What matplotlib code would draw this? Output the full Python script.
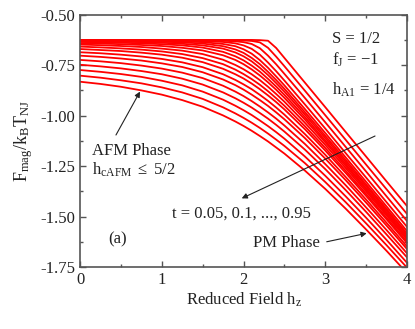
import matplotlib
matplotlib.use("Agg")
import matplotlib.pyplot as plt
from matplotlib.ticker import MultipleLocator, FormatStrFormatter

plt.rcParams['font.family'] = ['Liberation Serif', 'DejaVu Serif']
plt.rcParams['mathtext.fontset'] = 'custom'
plt.rcParams['mathtext.rm'] = 'Liberation Serif'
plt.rcParams['mathtext.it'] = 'Liberation Serif:italic'
plt.rcParams['axes.unicode_minus'] = False

# reduced temperatures t = 0.05 ... 0.95
t_vals = [0.05, 0.10, 0.15, 0.20, 0.25, 0.30, 0.35, 0.40, 0.45, 0.50,
          0.55, 0.60, 0.65, 0.70, 0.75, 0.80, 0.85, 0.90, 0.95]

# reduced field values where the curves were read
h_z = [0, 0.25, 0.5, 0.75, 1.0, 1.25, 1.5, 1.75, 1.9, 2.0, 2.1, 2.2,
       2.3, 2.4, 2.5, 2.75, 3.0, 3.25, 3.5, 3.75, 4.0]

# F_mag / k_B T_NJ, one row per t
F_mag = [
    [-0.625, -0.625, -0.625, -0.625, -0.625, -0.625, -0.625, -0.625, -0.625, -0.625, -0.625,
     -0.626, -0.629, -0.665, -0.714, -0.836, -0.958, -1.081, -1.203, -1.326, -1.448],
    [-0.625, -0.625, -0.625, -0.625, -0.625, -0.625, -0.626, -0.626, -0.627, -0.628, -0.630,
     -0.637, -0.664, -0.708, -0.755, -0.876, -0.998, -1.120, -1.243, -1.365, -1.487],
    [-0.625, -0.625, -0.625, -0.626, -0.626, -0.626, -0.627, -0.629, -0.632, -0.636, -0.645,
     -0.666, -0.703, -0.746, -0.793, -0.912, -1.033, -1.155, -1.277, -1.400, -1.522],
    [-0.625, -0.625, -0.626, -0.626, -0.627, -0.628, -0.631, -0.635, -0.642, -0.652, -0.669,
     -0.698, -0.737, -0.780, -0.826, -0.944, -1.064, -1.186, -1.307, -1.429, -1.551],
    [-0.626, -0.627, -0.627, -0.628, -0.630, -0.632, -0.636, -0.645, -0.656, -0.671, -0.693,
     -0.725, -0.763, -0.806, -0.850, -0.967, -1.086, -1.207, -1.328, -1.450, -1.572],
    [-0.628, -0.629, -0.630, -0.631, -0.634, -0.637, -0.643, -0.656, -0.672, -0.689, -0.714,
     -0.745, -0.783, -0.824, -0.867, -0.982, -1.100, -1.220, -1.341, -1.462, -1.584],
    [-0.631, -0.632, -0.634, -0.636, -0.639, -0.644, -0.652, -0.668, -0.687, -0.706, -0.731,
     -0.763, -0.799, -0.839, -0.881, -0.994, -1.111, -1.230, -1.350, -1.471, -1.592],
    [-0.635, -0.637, -0.639, -0.642, -0.646, -0.652, -0.663, -0.684, -0.706, -0.726, -0.752,
     -0.782, -0.818, -0.856, -0.897, -1.007, -1.123, -1.240, -1.360, -1.480, -1.601],
    [-0.641, -0.643, -0.646, -0.650, -0.655, -0.664, -0.677, -0.701, -0.724, -0.745, -0.771,
     -0.801, -0.835, -0.872, -0.912, -1.019, -1.132, -1.249, -1.367, -1.487, -1.607],
    [-0.648, -0.651, -0.655, -0.660, -0.668, -0.678, -0.695, -0.723, -0.749, -0.770, -0.795,
     -0.824, -0.857, -0.893, -0.931, -1.035, -1.145, -1.260, -1.376, -1.495, -1.614],
    [-0.658, -0.662, -0.667, -0.673, -0.682, -0.695, -0.715, -0.745, -0.772, -0.794, -0.819,
     -0.847, -0.879, -0.914, -0.951, -1.052, -1.160, -1.273, -1.388, -1.506, -1.624],
    [-0.670, -0.675, -0.680, -0.688, -0.698, -0.713, -0.735, -0.768, -0.795, -0.816, -0.841,
     -0.869, -0.900, -0.933, -0.969, -1.067, -1.173, -1.284, -1.398, -1.514, -1.632],
    [-0.686, -0.691, -0.698, -0.707, -0.719, -0.736, -0.760, -0.795, -0.823, -0.845, -0.869,
     -0.897, -0.927, -0.960, -0.995, -1.091, -1.194, -1.304, -1.416, -1.531, -1.648],
    [-0.703, -0.709, -0.717, -0.727, -0.741, -0.759, -0.785, -0.821, -0.849, -0.871, -0.896,
     -0.923, -0.952, -0.984, -1.018, -1.111, -1.213, -1.320, -1.431, -1.545, -1.661],
    [-0.724, -0.731, -0.740, -0.752, -0.767, -0.787, -0.814, -0.852, -0.881, -0.903, -0.928,
     -0.955, -0.984, -1.015, -1.049, -1.140, -1.240, -1.345, -1.455, -1.567, -1.682],
    [-0.748, -0.756, -0.766, -0.779, -0.795, -0.817, -0.846, -0.885, -0.914, -0.936, -0.960,
     -0.987, -1.015, -1.046, -1.079, -1.168, -1.265, -1.369, -1.477, -1.589, -1.702],
    [-0.774, -0.783, -0.794, -0.808, -0.827, -0.850, -0.881, -0.921, -0.951, -0.973, -0.997,
     -1.024, -1.052, -1.082, -1.114, -1.202, -1.298, -1.400, -1.506, -1.616, -1.729],
    [-0.802, -0.812, -0.825, -0.840, -0.860, -0.885, -0.917, -0.959, -0.989, -1.011, -1.035,
     -1.061, -1.089, -1.119, -1.150, -1.235, -1.329, -1.429, -1.534, -1.642, -1.753],
    [-0.832, -0.843, -0.857, -0.875, -0.896, -0.923, -0.956, -0.999, -1.029, -1.051, -1.075,
     -1.101, -1.128, -1.158, -1.188, -1.272, -1.363, -1.461, -1.564, -1.670, -1.780],
]

LINE_RED = "#ff0000"
TEXT_COLOR = "#222222"
AXIS_COLOR = "#555555"

fig = plt.figure(figsize=(4.15, 3.29), dpi=100)
ax = fig.add_axes([80 / 415, 1 - 267 / 329, 327 / 415, 252.3 / 329])

for t, row in zip(t_vals, F_mag):
    ax.plot(h_z, row, color=LINE_RED, lw=1.3, label=f"t = {t}")

ax.set_xlim(0, 4)
ax.set_ylim(-1.75, -0.5)
ax.xaxis.set_major_locator(MultipleLocator(1))
ax.xaxis.set_minor_locator(MultipleLocator(0.5))
ax.yaxis.set_major_locator(MultipleLocator(0.25))
ax.yaxis.set_minor_locator(MultipleLocator(0.125))
ax.yaxis.set_major_formatter(FormatStrFormatter('%.2f'))
ax.tick_params(which='both', direction='in', top=True, right=True,
               colors=AXIS_COLOR, labelcolor=TEXT_COLOR, labelsize=12, width=1.0)
ax.tick_params(which='major', length=4)
ax.tick_params(which='minor', length=2.5)
for sp in ax.spines.values():
    sp.set_color(AXIS_COLOR)
    sp.set_linewidth(1.2)

ax.set_xlabel(r'Reduced Field h$_\mathrm{z}$', fontsize=12, color=TEXT_COLOR, labelpad=2)
ax.set_ylabel(r'F$_\mathrm{mag}$/k$_\mathrm{B}$T$_\mathrm{NJ}$', fontsize=13,
              color=TEXT_COLOR, labelpad=4)

# parameters and phase labels
ax.text(3.08, -0.639, 'S = 1/2', fontsize=12, color=TEXT_COLOR, va='baseline')
ax.text(3.08, -0.749, r'f$_\mathrm{J}$ = $-$1', fontsize=12, color=TEXT_COLOR, va='baseline')
ax.text(3.08, -0.898, r'h$_\mathrm{A1}$ = 1/4', fontsize=12, color=TEXT_COLOR, va='baseline')
ax.text(0.143, -1.195, 'AFM Phase', fontsize=12, color=TEXT_COLOR, va='baseline')
ax.text(0.143, -1.294, r'h$_\mathrm{cAFM}$ $\leq$ 5/2', fontsize=12, color=TEXT_COLOR,
        va='baseline')
ax.text(1.122, -1.504, 't = 0.05, 0.1, ..., 0.95', fontsize=12, color=TEXT_COLOR,
        va='baseline')
ax.text(0.343, -1.632, '(a)', fontsize=12, color=TEXT_COLOR, va='baseline')
ax.text(2.116, -1.649, 'PM Phase', fontsize=12, color=TEXT_COLOR, va='baseline')

arw = dict(arrowstyle='-|>', color=TEXT_COLOR, lw=0.8, mutation_scale=8,
           shrinkA=0, shrinkB=0)
ax.annotate('', xy=(0.734, -0.881), xytext=(0.440, -1.096), arrowprops=arw)
ax.annotate('', xy=(1.978, -1.410), xytext=(3.609, -1.101), arrowprops=arw)
ax.annotate('', xy=(3.507, -1.583), xytext=(3.018, -1.625), arrowprops=arw)

fig.savefig("out.png", dpi=100)
plt.close(fig)
